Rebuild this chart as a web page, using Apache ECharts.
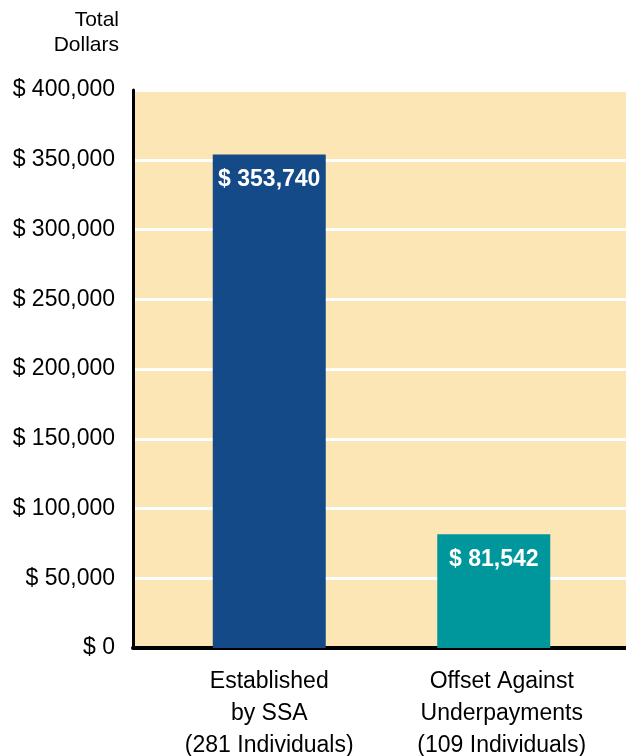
<!DOCTYPE html>
<html>
<head>
<meta charset="utf-8">
<script src="https://cdn.jsdelivr.net/npm/echarts@6/dist/echarts.min.js"></script>
<style>
  html, body { margin: 0; padding: 0; background: #fff; }
  #chart { width: 626px; height: 756px; }
</style>
</head>
<body>
<div id="chart"></div>
<script>
// data
const categories = [
  'Established\nby SSA\n(281 Individuals)',
  'Offset Against\nUnderpayments\n(109 Individuals)'
]
const amounts = [353740, 81542]
const barColors = ['#134a87', '#00979c']
const yTicks = { min: 0, max: 400000, interval: 50000 }

const fmtMoney = (v) => '$ ' + Number(v).toLocaleString('en-US')

const chart = echarts.init(document.getElementById('chart'), null, { renderer: 'canvas' })

const font = 'Liberation Sans, Arial, sans-serif'

const option = {
  animation: false,
  backgroundColor: '#ffffff',
  graphic: [
    {
      type: 'text',
      x: 119,
      y: 8,
      style: {
        text: 'Total\nDollars',
        align: 'right',
        fontSize: 21,
        lineHeight: 25,
        fontFamily: font,
        fill: '#000'
      }
    }
  ],
  grid: [
    // background grid carrying the value axis
    { left: 133, right: 0, top: 90, bottom: 108, outerBoundsMode: 'none', show: true, backgroundColor: '#fde6b5', borderWidth: 0 },
    // grid the bars sit in (slightly inset, like the original)
    { left: 157, right: 20, top: 90, bottom: 108, outerBoundsMode: 'none' }
  ],
  xAxis: [
    {
      gridIndex: 0,
      type: 'category',
      data: ['', ''],
      axisLine: { lineStyle: { color: '#000', width: 4 } },
      axisTick: { show: false },
      axisLabel: { show: false }
    },
    {
      gridIndex: 1,
      type: 'category',
      data: categories,
      axisLine: { show: false },
      axisTick: { show: false },
      axisLabel: {
        interval: 0,
        hideOverlap: false,
        margin: 18,
        fontSize: 23,
        lineHeight: 32,
        fontFamily: font,
        color: '#000',
        align: 'center',
        formatter: (v, i) => (i === 1 ? '{b|' + v + '}' : '{a|' + v + '}'),
        rich: {
          a: { fontSize: 23, lineHeight: 32, fontFamily: font, color: '#000' },
          b: { fontSize: 23, lineHeight: 32, fontFamily: font, color: '#000', padding: [0, 0, 0, 16] }
        }
      }
    }
  ],
  yAxis: [
    {
      gridIndex: 0,
      type: 'value',
      min: yTicks.min,
      max: yTicks.max,
      interval: yTicks.interval,
      axisLine: { show: true, lineStyle: { color: '#000', width: 3 } },
      axisTick: { show: false },
      splitLine: { show: true, lineStyle: { color: '#ffffff', width: 3 } },
      axisLabel: {
        margin: 18,
        fontSize: 23,
        fontFamily: font,
        color: '#000',
        padding: [6, 0, 0, 0],
        formatter: fmtMoney
      }
    },
    {
      gridIndex: 1,
      type: 'value',
      min: yTicks.min,
      max: yTicks.max,
      interval: yTicks.interval,
      show: false
    }
  ],
  series: [
    {
      type: 'bar',
      xAxisIndex: 1,
      yAxisIndex: 1,
      barWidth: 113,
      data: amounts.map((v, i) => ({ value: v, itemStyle: { color: barColors[i] } })),
      label: {
        show: true,
        position: 'insideTop',
        distance: 14,
        color: '#fff',
        fontWeight: 'bold',
        fontSize: 23,
        fontFamily: font,
        formatter: (p) => fmtMoney(p.value)
      }
    }
  ]
}

chart.setOption(option)
</script>
</body>
</html>
